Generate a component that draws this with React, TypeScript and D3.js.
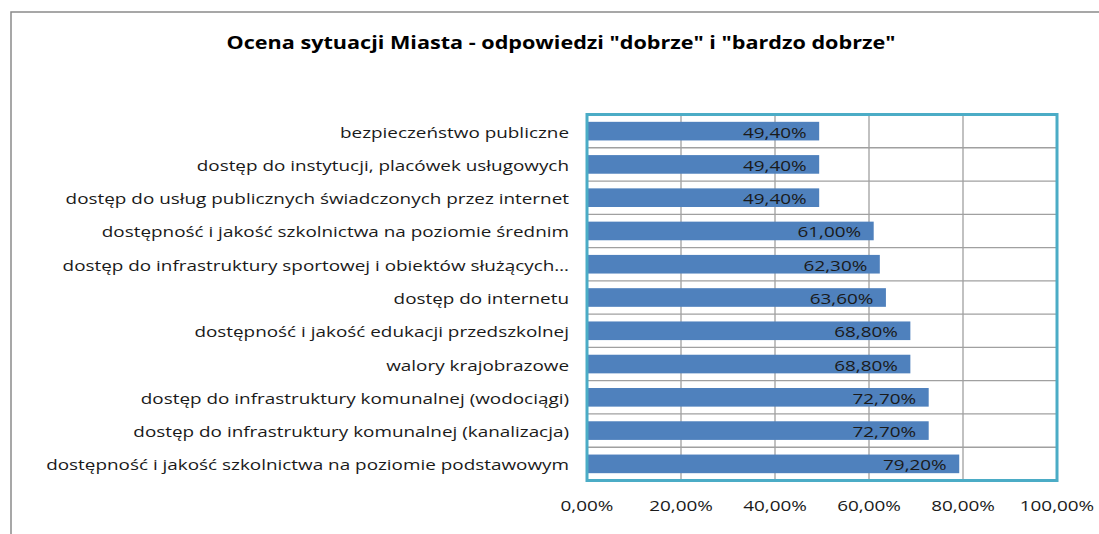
import * as d3 from 'd3'
import { useEffect, useRef } from 'react'

const categories = [
  'bezpieczeństwo publiczne',
  'dostęp do instytucji, placówek usługowych',
  'dostęp do usług publicznych świadczonych przez internet',
  'dostępność i jakość szkolnictwa na poziomie średnim',
  'dostęp do infrastruktury sportowej i obiektów służących…',
  'dostęp do internetu',
  'dostępność i jakość edukacji przedszkolnej',
  'walory krajobrazowe',
  'dostęp do infrastruktury komunalnej (wodociągi)',
  'dostęp do infrastruktury komunalnej (kanalizacja)',
  'dostępność i jakość szkolnictwa na poziomie podstawowym',
]
const values = [49.4, 49.4, 49.4, 61.0, 62.3, 63.6, 68.8, 68.8, 72.7, 72.7, 79.2]
const ticks = [0, 20, 40, 60, 80, 100]
const title = 'Ocena sytuacji Miasta - odpowiedzi "dobrze" i "bardzo dobrze"'

const W = 1099
const H = 534
const FONT = '"Open Sans", "DejaVu Sans", sans-serif'
// the source picture is stretched sideways, so text is widened to match
const SX = 1.26

const fmt = (v: number) => v.toFixed(2).replace('.', ',') + '%'
const at = (x: number, y: number) => `translate(${x},${y}) scale(${SX},1)`

export default function App() {
  const ref = useRef<SVGSVGElement>(null)

  useEffect(() => {
    const svg = d3.select(ref.current)
    svg.selectAll('*').remove()

    const plot = { left: 587, right: 1057, top: 114.5, bottom: 480.5 }

    const x = d3.scaleLinear().domain([0, 100]).range([plot.left, plot.right])
    const y = d3
      .scaleBand<string>()
      .domain(categories)
      .range([plot.top, plot.bottom])
      .paddingInner(0.44)
      .paddingOuter(0.22)

    svg.append('rect').attr('width', W).attr('height', H).attr('fill', '#fff')

    // outer chart border (runs off the picture on right and bottom)
    svg
      .append('rect')
      .attr('x', 11)
      .attr('y', 12)
      .attr('width', 1200)
      .attr('height', 600)
      .attr('fill', 'none')
      .attr('stroke', '#8a8a8a')
      .attr('stroke-width', 1.5)

    svg
      .append('text')
      .attr('transform', `translate(561,49) scale(1.2,1)`)
      .attr('text-anchor', 'middle')
      .attr('font-family', FONT)
      .attr('font-weight', 'bold')
      .attr('font-size', 18)
      .attr('fill', '#000')
      .text(title)

    const step = (plot.bottom - plot.top) / categories.length

    // vertical gridlines
    svg
      .append('g')
      .selectAll('line')
      .data(ticks.slice(1, -1))
      .join('line')
      .attr('x1', (d) => x(d))
      .attr('x2', (d) => x(d))
      .attr('y1', plot.top)
      .attr('y2', plot.bottom)
      .attr('stroke', '#a0a0a0')
      .attr('stroke-width', 1.3)

    // horizontal category dividers
    svg
      .append('g')
      .selectAll('line')
      .data(d3.range(1, categories.length))
      .join('line')
      .attr('x1', plot.left)
      .attr('x2', plot.right)
      .attr('y1', (i) => plot.top + i * step)
      .attr('y2', (i) => plot.top + i * step)
      .attr('stroke', '#a0a0a0')
      .attr('stroke-width', 1.3)

    const bars = svg.append('g')
    bars
      .selectAll('rect')
      .data(values)
      .join('rect')
      .attr('x', x(0) + 1)
      .attr('y', (_, i) => y(categories[i])!)
      .attr('width', (d) => x(d) - x(0) - 1)
      .attr('height', y.bandwidth())
      .attr('fill', '#4f81bd')

    bars
      .selectAll('text')
      .data(values)
      .join('text')
      .attr('transform', (d, i) => at(x(d) - 12.5, y(categories[i])! + y.bandwidth() / 2 + 6.5))
      .attr('text-anchor', 'end')
      .attr('font-family', FONT)
      .attr('font-size', 15)
      .attr('fill', '#1a1a1a')
      .text((d) => fmt(d))

    // plot area border
    svg
      .append('rect')
      .attr('x', plot.left)
      .attr('y', plot.top)
      .attr('width', plot.right - plot.left)
      .attr('height', plot.bottom - plot.top)
      .attr('fill', 'none')
      .attr('stroke', '#4bacc6')
      .attr('stroke-width', 3)

    // category labels
    svg
      .append('g')
      .selectAll('text')
      .data(categories)
      .join('text')
      .attr('transform', (d) => at(569, y(d)! + y.bandwidth() / 2 + 6.5))
      .attr('text-anchor', 'end')
      .attr('font-family', FONT)
      .attr('font-size', 15)
      .attr('fill', '#1a1a1a')
      .text((d) => d)

    // value axis labels
    svg
      .append('g')
      .selectAll('text')
      .data(ticks)
      .join('text')
      .attr('transform', (d) => at(x(d), 511))
      .attr('text-anchor', 'middle')
      .attr('font-family', FONT)
      .attr('font-size', 15)
      .attr('fill', '#1a1a1a')
      .text((d) => fmt(d))
  }, [])

  return (
    <div style={{ position: 'fixed', left: 0, top: 0 }}>
      <svg ref={ref} width={W} height={H} style={{ display: 'block' }} />
    </div>
  )
}
